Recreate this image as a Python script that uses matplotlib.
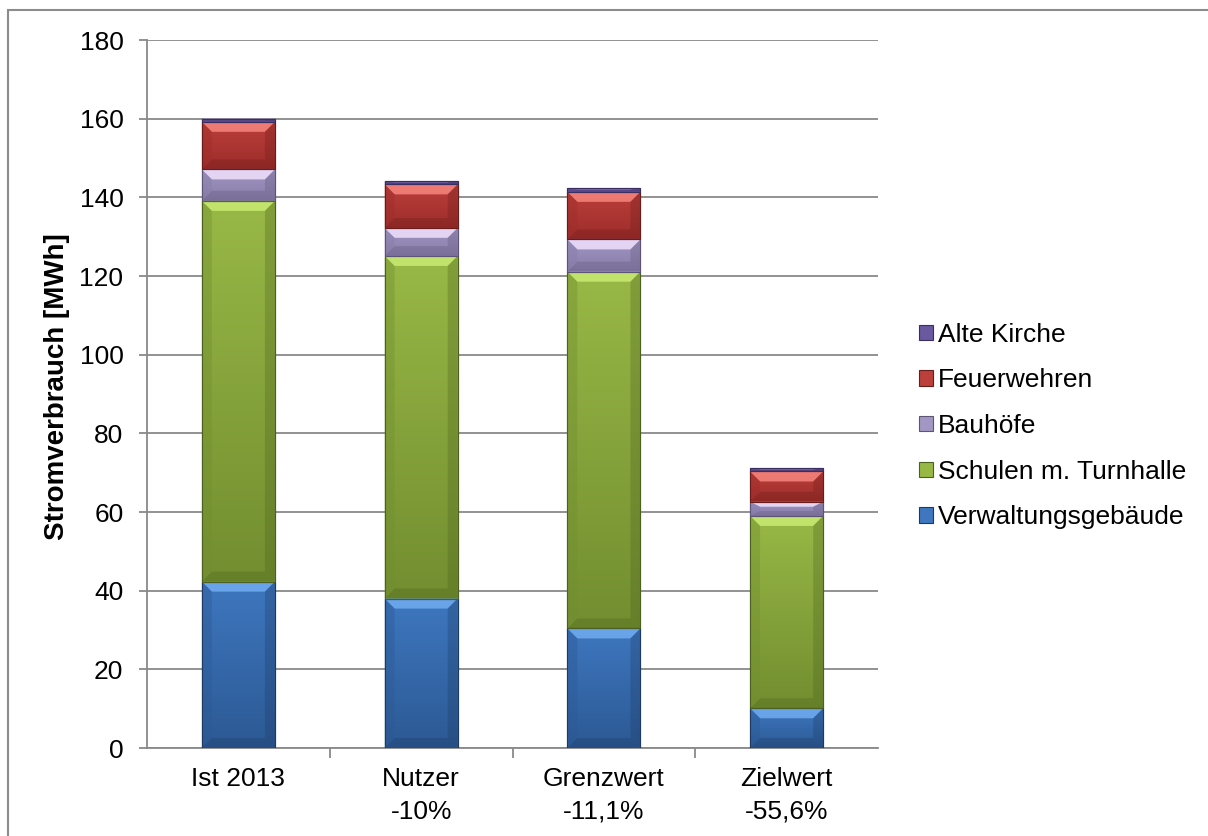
import numpy as np
import matplotlib.pyplot as plt
from matplotlib.patches import Polygon, Rectangle
from matplotlib.colors import to_rgb

plt.rcParams['font.family'] = ['Liberation Sans', 'DejaVu Sans']

# data (MWh)
categories = ['Ist 2013', 'Nutzer\n-10%', 'Grenzwert\n-11,1%', 'Zielwert\n-55,6%']
verwaltung = [42.3, 38.0, 30.4, 10.1]
schulen = [96.8, 87.1, 90.7, 48.9]
bauhoefe = [8.0, 7.1, 8.2, 3.6]
feuerwehren = [12.1, 11.1, 12.1, 7.7]
alte_kirche = [0.8, 0.8, 0.9, 0.8]

labels = ['Verwaltungsgebäude', 'Schulen m. Turnhalle', 'Bauhöfe', 'Feuerwehren', 'Alte Kirche']
values = [verwaltung, schulen, bauhoefe, feuerwehren, alte_kirche]
# (body top, body bottom, top bevel, edge)
styles = [
    ('#3e77bf', '#2c5994', '#6ea9ee', '#1d3a63'),
    ('#98b846', '#728e30', '#c6e870', '#4c611f'),
    ('#a297c4', '#877ca8', '#ecdcf9', '#5e5478'),
    ('#bc3f3b', '#9d2d2a', '#f4817a', '#6a1c1a'),
    ('#6a58a0', '#574686', '#8b78c4', '#3b2e60'),
]

fig = plt.figure(figsize=(12.08, 8.36), dpi=100)
ax = fig.add_axes([147 / 1208, 88 / 836, 731 / 1208, 708 / 836])

x = np.arange(len(categories))
width = 0.4
bottom = np.zeros(len(categories))
containers = []
for lab, vals, st in zip(labels, values, styles):
    bc = ax.bar(x, vals, width, bottom=bottom, label=lab, color=st[0],
                edgecolor=st[3], linewidth=0.8, zorder=3)
    containers.append((bc, st))
    bottom += np.array(vals)

ax.set_xlim(-0.5, 3.5)
ax.set_ylim(0, 180)

# bevel look, built from the bar patches
dx = 10 * 4 / 731
dy_full = 10 * 180 / 708
for bc, st in containers:
    c_top = np.array(to_rgb(st[0]))
    c_bot = np.array(to_rgb(st[1]))
    for p in bc.patches:
        x0, y0 = p.get_x(), p.get_y()
        x1, y1 = x0 + p.get_width(), y0 + p.get_height()
        grad = np.linspace(c_top, c_bot, 64)[:, None, :]
        im = ax.imshow(grad, extent=[x0, x1, y0, y1], aspect='auto',
                       zorder=3.1, interpolation='bilinear')
        im.set_clip_path(p)
        dy = min(dy_full, (y1 - y0) * 0.35)
        ax.add_patch(Polygon([(x0, y1), (x1, y1), (x1 - dx, y1 - dy), (x0 + dx, y1 - dy)],
                             closed=True, facecolor=st[2], edgecolor='none', alpha=0.9, zorder=3.2))
        ax.add_patch(Polygon([(x0, y0), (x1, y0), (x1 - dx, y0 + dy), (x0 + dx, y0 + dy)],
                             closed=True, facecolor=st[3], edgecolor='none', alpha=0.3, zorder=3.2))
        ax.add_patch(Polygon([(x0, y0), (x0 + dx, y0 + dy), (x0 + dx, y1 - dy), (x0, y1)],
                             closed=True, facecolor=st[1], edgecolor='none', alpha=0.4, zorder=3.2))
        ax.add_patch(Polygon([(x1, y0), (x1 - dx, y0 + dy), (x1 - dx, y1 - dy), (x1, y1)],
                             closed=True, facecolor=st[3], edgecolor='none', alpha=0.3, zorder=3.2))
        ax.add_patch(Rectangle((x0, y0), x1 - x0, y1 - y0, fill=False,
                               edgecolor=st[3], linewidth=0.8, zorder=3.3))

ax.set_xlim(-0.5, 3.5)
ax.set_ylim(0, 180)

gray = '#898989'
ax.set_yticks(np.arange(0, 181, 20))
ax.yaxis.grid(True, color=gray, linewidth=1.3)
ax.set_axisbelow(True)
for s in ['top', 'right']:
    ax.spines[s].set_visible(False)
for s in ['left', 'bottom']:
    ax.spines[s].set_color(gray)
    ax.spines[s].set_linewidth(1.3)

ax.set_xticks(x)
ax.set_xticklabels(categories, linespacing=1.45)
ax.set_xticks([0.5, 1.5, 2.5], minor=True)
ax.tick_params(axis='x', which='major', length=0, pad=14, labelsize=19)
ax.tick_params(axis='x', which='minor', length=7, width=1.3, color=gray)
ax.tick_params(axis='y', length=6, width=1.3, color=gray, pad=11, labelsize=19)

ax.set_ylabel('Stromverbrauch [MWh]', fontsize=20, fontweight='bold')
ax.yaxis.set_label_coords(-0.105, 0.51)

h, l = ax.get_legend_handles_labels()
ax.legend(h[::-1], l[::-1], loc='center left', bbox_to_anchor=(919 / 1208, 1 - 426 / 836),
          bbox_transform=fig.transFigure, frameon=False, fontsize=19,
          handlelength=0.53, handleheight=0.53, handletextpad=0.2,
          labelspacing=0.82, borderpad=0, borderaxespad=0)

fig.patches.append(Rectangle((8 / 1208, -0.05), 1.2, 1 - 10 / 836 + 0.05,
                             transform=fig.transFigure, fill=False,
                             edgecolor='#8c8c8c', linewidth=1.5))

fig.savefig('out.png', dpi=100)
